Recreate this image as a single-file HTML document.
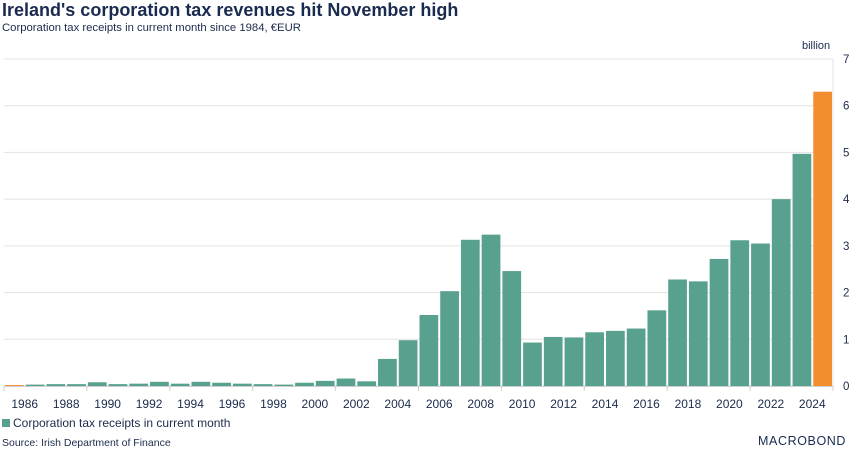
<!DOCTYPE html>
<html><head><meta charset="utf-8"><style>
body{margin:0;width:850px;height:453px;background:#fff;font-family:"Liberation Sans",sans-serif;color:#1c2b4b;overflow:hidden;position:relative}
.t{position:absolute;white-space:nowrap}
</style></head><body>
<div class="t" style="left:2px;top:0px;font-size:18px;font-weight:bold;color:#1a2b50">Ireland's corporation tax revenues hit November high</div>
<div class="t" style="left:2px;top:22px;font-size:11.3px;color:#1c2b4b">Corporation tax receipts in current month since 1984, €EUR</div>
<div class="t" style="left:802px;top:40px;font-size:11px">billion</div>
<svg id="c" width="850" height="453" style="position:absolute;left:0;top:0"></svg>
<div class="t" style="left:2px;top:416px;font-size:12px"><span style="display:inline-block;width:8px;height:8px;background:#58a18f;margin-right:3px"></span>Corporation tax receipts in current month</div>
<div class="t" style="left:2px;top:437px;font-size:10.5px">Source: Irish Department of Finance</div>
<div class="t" style="left:758px;top:434px;font-size:12.5px;letter-spacing:0.6px;color:#1a2b50">MACROBOND</div>
<script>
const years=[1985,1986,1987,1988,1989,1990,1991,1992,1993,1994,1995,1996,1997,1998,1999,2000,2001,2002,2003,2004,2005,2006,2007,2008,2009,2010,2011,2012,2013,2014,2015,2016,2017,2018,2019,2020,2021,2022,2023,2024];
const values=[0.02,0.03,0.04,0.04,0.08,0.04,0.05,0.09,0.05,0.09,0.07,0.05,0.04,0.03,0.07,0.11,0.16,0.1,0.58,0.98,1.52,2.03,3.13,3.24,2.46,0.93,1.05,1.04,1.15,1.18,1.23,1.62,2.28,2.24,2.72,3.12,3.05,4.0,4.97,6.3];
const highlight=[1985,2024];
const yTicks=[0,1,2,3,4,5,6,7];
const xLabels=[1986,1988,1990,1992,1994,1996,1998,2000,2002,2004,2006,2008,2010,2012,2014,2016,2018,2020,2022,2024];
const svg=document.getElementById('c');const NS='http://www.w3.org/2000/svg';
const x0=4,x1=833,y0=386,yTop=59,vmax=7;
const w=(x1-x0)/years.length;
const Y=v=>y0-(v/vmax)*(y0-yTop);
const X=yr=>x0+(yr-years[0])*w;
function mk(t,a){const e=document.createElementNS(NS,t);for(const k in a)e.setAttribute(k,a[k]);svg.appendChild(e);return e;}
yTicks.forEach(t=>{
 const g=mk('line',{x1:x0,x2:x1,y1:Y(t),y2:Y(t),stroke:'#e3e3e3','stroke-width':1});
 
 
 const l=mk('text',{x:843,y:Y(t)+4,'font-size':11.5,fill:'#1c2b4b','font-family':'Liberation Sans'});
 l.textContent=t;
 
 
});
const ax=mk('line',{x1:x1,x2:x1,y1:yTop,y2:y0,stroke:'#e3e3e3'});


years.forEach((yr,i)=>{
 const r=mk('rect',{x:X(yr)+1,y:Y(values[i]),width:w-2,height:y0-Y(values[i]),fill:highlight.includes(yr)?'#f28e2f':'#58a18f'});
 
 
});
const xa=mk('line',{x1:x0,x2:x1,y1:y0+0.5,y2:y0+0.5,stroke:'#cfcfcf'});


for(let yr=1984;yr<=2024;yr+=4){const tk=mk('line',{x1:X(yr+1),x2:X(yr+1),y1:y0,y2:y0+5,stroke:'#cfcfcf'});
 
 }
xLabels.forEach(yr=>{
 const l=mk('text',{x:Math.min(X(yr),828),y:408,'font-size':12,fill:'#1c2b4b','text-anchor':'middle','font-family':'Liberation Sans'});
 l.textContent=yr;
 
 
});
</script>
</body></html>
